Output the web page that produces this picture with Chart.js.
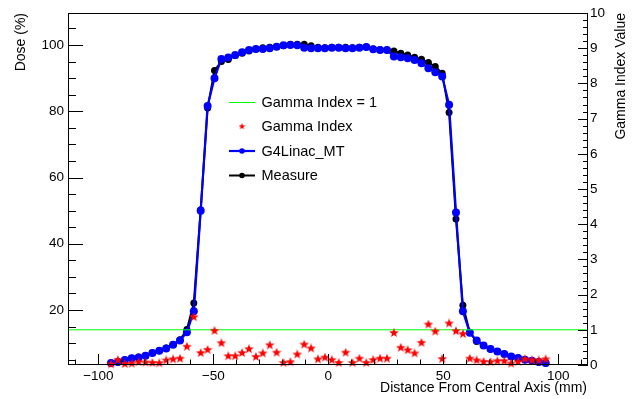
<!DOCTYPE html>
<html>
<head>
<meta charset="utf-8">
<script src="https://cdn.jsdelivr.net/npm/chart.js@4/dist/chart.umd.min.js"></script>
<style>
  body { margin: 0; background: #fff; }
  canvas { display: block; }
</style>
</head>
<body>
<canvas id="myChart" width="637" height="399"></canvas>
<script>
// profile data
const xPos = [-94.5, -91.5, -88.5, -85.5, -82.5, -79.5, -76.5, -73.5, -70.5, -67.5,
  -64.5, -61.5, -58.5, -55.5, -52.5, -49.5, -46.5, -43.5, -40.5, -37.5,
  -34.5, -31.5, -28.5, -25.5, -22.5, -19.5, -16.5, -13.5, -10.5, -7.5,
  -4.5, -1.5, 1.5, 4.5, 7.5, 10.5, 13.5, 16.5, 19.5, 22.5,
  25.5, 28.5, 31.5, 34.5, 37.5, 40.5, 43.5, 46.5, 49.5, 52.5,
  55.5, 58.5, 61.5, 64.5, 67.5, 70.5, 73.5, 76.5, 79.5, 82.5,
  85.5, 88.5, 91.5, 94.5];

const g4Linac = [4.0, 4.3, 4.9, 5.4, 5.7, 6.2, 7.0, 7.7, 8.4, 9.5,
  10.8, 13.3, 19.6, 50.0, 81.6, 90.0, 95.8, 96.2, 97.0, 97.8,
  98.5, 98.8, 98.8, 99.0, 99.5, 99.9, 100.0, 99.9, 99.2, 99.0,
  99.0, 99.0, 99.2, 99.2, 99.0, 99.0, 99.2, 99.4, 98.7, 98.5,
  98.5, 96.5, 96.3, 96.0, 95.5, 94.5, 93.0, 91.8, 90.5, 82.0,
  49.4, 19.6, 13.1, 10.8, 9.3, 8.2, 7.5, 6.7, 6.0, 5.5,
  5.0, 4.7, 4.3, 4.0];

const measure = [4.0, 4.3, 4.9, 5.4, 5.8, 6.2, 7.0, 7.7, 8.5, 9.6,
  11.0, 14.1, 22.1, 50.3, 81.0, 92.3, 95.0, 95.6, 96.8, 97.5,
  98.2, 98.8, 99.2, 99.3, 99.5, 99.8, 100.2, 100.2, 100.2, 99.8,
  99.3, 99.2, 99.3, 99.3, 99.3, 99.2, 99.3, 99.4, 98.8, 98.6,
  98.5, 98.2, 97.5, 97.0, 96.3, 95.7, 94.7, 93.5, 91.5, 79.6,
  47.5, 21.4, 13.3, 10.5, 9.3, 8.2, 7.5, 6.7, 6.0, 5.5,
  5.0, 4.6, 4.3, 3.9];

const gammaIdx = [0.02, 0.14, 0.03, 0.04, 0.08, 0.07, 0.06, 0.05, 0.13, 0.16,
  0.18, 0.52, 1.36, 0.34, 0.43, 0.97, 0.62, 0.25, 0.25, 0.34,
  0.45, 0.23, 0.33, 0.56, 0.35, 0.06, 0.08, 0.30, 0.58, 0.47,
  0.16, 0.21, 0.14, 0.06, 0.35, 0.06, 0.18, 0.06, 0.14, 0.18,
  0.18, 0.91, 0.49, 0.42, 0.33, 0.63, 1.15, 0.95, 0.17, 1.18,
  0.96, 0.88, 0.18, 0.13, 0.09, 0.08, 0.11, 0.11, 0.04, 0.09,
  0.16, 0.13, 0.13, 0.16];

const gammaLimit = 1;

// axes
const xRange = [-113.2, 112.9];
const doseRange = [3.4, 109.66];
const gammaRange = [0, 10];
const xTicks = [-100, -50, 0, 50, 100];
const doseTicks = [20, 40, 60, 80, 100];
const gammaTicks = [0, 1, 2, 3, 4, 5, 6, 7, 8, 9, 10];

const FONT = '"Liberation Sans", Arial, Helvetica, sans-serif';

// filled star marker (ROOT style 29)
function makeStar(size, color) {
  const c = document.createElement("canvas");
  c.width = size; c.height = size;
  const g = c.getContext("2d");
  const cx = size / 2, cy = size / 2, ro = size / 2, ri = ro * 0.42;
  g.beginPath();
  for (let i = 0; i < 10; i++) {
    const r = i % 2 ? ri : ro;
    const a = -Math.PI / 2 + i * Math.PI / 5;
    g.lineTo(cx + r * Math.cos(a), cy + r * Math.sin(a));
  }
  g.closePath();
  g.fillStyle = color;
  g.fill();
  return c;
}
const starImg = makeStar(10, "#ff0000");
const starSmall = makeStar(7, "#ff0000");

function pts(ys) {
  return xPos.map((x, i) => ({ x: x, y: ys[i] }));
}

function fixTicks(values) {
  return function (scale) {
    scale.ticks = values.map(v => ({ value: v }));
  };
}

// frame, inner tick marks, titles and legend like ROOT
const rootFrame = {
  id: "rootFrame",
  afterDraw(chart) {
    const ctx = chart.ctx;
    const a = chart.chartArea;
    const sx = chart.scales.x, sy = chart.scales.y, sy2 = chart.scales.y2;
    ctx.save();
    ctx.strokeStyle = "#000";
    ctx.lineWidth = 1;
    ctx.strokeRect(a.left + 0.5, a.top + 0.5, a.right - a.left - 1, a.bottom - a.top - 1);

    ctx.beginPath();
    // bottom axis ticks
    for (let v = -110; v <= 110; v += 10) {
      const px = Math.round(sx.getPixelForValue(v)) + 0.5;
      const len = v % 50 === 0 ? 11 : 5.5;
      ctx.moveTo(px, a.bottom);
      ctx.lineTo(px, a.bottom - len);
    }
    // left axis ticks
    for (let v = 5; v <= 105; v += 5) {
      const py = Math.round(sy.getPixelForValue(v)) + 0.5;
      const len = v % 20 === 0 ? 15 : 8;
      ctx.moveTo(a.left, py);
      ctx.lineTo(a.left + len, py);
    }
    // right axis ticks
    for (let i = 0; i <= 50; i++) {
      const v = i / 5;
      const py = Math.round(sy2.getPixelForValue(v)) + 0.5;
      const len = i % 5 === 0 ? 10 : 5;
      ctx.moveTo(a.right, py);
      ctx.lineTo(a.right - len, py);
    }
    ctx.stroke();

    // axis titles
    ctx.fillStyle = "#000";
    ctx.font = "14px " + FONT;
    ctx.textBaseline = "middle";
    ctx.textAlign = "right";
    ctx.fillText("Distance From Central Axis (mm)", a.right - 1, 388);

    ctx.save();
    ctx.translate(21.5, a.top);
    ctx.rotate(-Math.PI / 2);
    ctx.fillText("Dose (%)", 0, 0);
    ctx.restore();

    ctx.save();
    ctx.translate(621.5, a.top);
    ctx.rotate(-Math.PI / 2);
    ctx.fillText("Gamma Index Value", 0, 0);
    ctx.restore();

    // legend
    const ds = chart.data.datasets;
    const legend = [
      { label: "Gamma Index = 1", y: 102.5, d: ds[1], kind: "line" },
      { label: "Gamma Index", y: 126.5, d: ds[0], kind: "star" },
      { label: "G4Linac_MT", y: 151, d: ds[2], kind: "both" },
      { label: "Measure", y: 175.5, d: ds[3], kind: "both" },
    ];
    const lx0 = 229, lx1 = 255, mx = 242;
    ctx.font = "14.5px " + FONT;
    ctx.textAlign = "left";
    legend.forEach(e => {
      if (e.kind !== "star") {
        ctx.beginPath();
        ctx.strokeStyle = e.d.borderColor;
        ctx.lineWidth = e.d.borderWidth;
        ctx.moveTo(lx0, e.y);
        ctx.lineTo(lx1, e.y);
        ctx.stroke();
      }
      if (e.kind === "both") {
        ctx.beginPath();
        ctx.fillStyle = e.d.pointBackgroundColor;
        ctx.arc(mx, e.y, 2.8, 0, Math.PI * 2);
        ctx.fill();
      }
      if (e.kind === "star") {
        ctx.drawImage(starSmall, mx - 3.5, e.y - 3.5);
      }
      ctx.fillStyle = "#000";
      ctx.fillText(e.label, 261.5, e.y + 0.5);
    });
    ctx.restore();
  },
};

const ctx = document.getElementById("myChart");
const myChart = new Chart(ctx, {
  type: "scatter",
  data: {
    datasets: [
      {
        label: "Gamma Index",
        data: pts(gammaIdx),
        yAxisID: "y2",
        showLine: false,
        pointStyle: starImg,
        pointRadius: 5,
        clip: false,
      },
      {
        label: "Gamma Index = 1",
        data: [{ x: xRange[0], y: gammaLimit }, { x: xRange[1], y: gammaLimit }],
        yAxisID: "y2",
        showLine: true,
        borderColor: "#00ff00",
        borderWidth: 1,
        pointRadius: 0,
      },
      {
        label: "G4Linac_MT",
        data: pts(g4Linac),
        yAxisID: "y",
        showLine: true,
        borderColor: "#0000ff",
        borderWidth: 2.2,
        pointRadius: 4,
        pointBackgroundColor: "#0000ff",
        pointBorderWidth: 0,
        clip: false,
      },
      {
        label: "Measure",
        data: pts(measure),
        yAxisID: "y",
        showLine: true,
        borderColor: "#000000",
        borderWidth: 2,
        pointRadius: 3.5,
        pointBackgroundColor: "#000000",
        pointBorderWidth: 0,
        clip: false,
      },
    ],
  },
  options: {
    responsive: false,
    animation: false,
    layout: { padding: { top: 13, left: 0, right: 0, bottom: 0 } },
    plugins: {
      legend: { display: false },
      tooltip: { enabled: false },
    },
    scales: {
      x: {
        type: "linear",
        position: "bottom",
        min: xRange[0],
        max: xRange[1],
        grid: { display: false, drawTicks: false },
        border: { display: false },
        afterBuildTicks: fixTicks(xTicks),
        afterFit: s => { s.height = 34; },
        ticks: {
          autoSkip: false,
          maxRotation: 0,
          padding: 3,
          color: "#000",
          font: { family: FONT, size: 13.5 },
          callback: v => (v < 0 ? "\u2212" + Math.abs(v) : String(v)),
        },
      },
      y: {
        type: "linear",
        position: "left",
        min: doseRange[0],
        max: doseRange[1],
        grid: { display: false, drawTicks: false },
        border: { display: false },
        afterBuildTicks: fixTicks(doseTicks),
        afterFit: s => { s.width = 68; },
        ticks: {
          autoSkip: false,
          padding: 4,
          color: "#000",
          font: { family: FONT, size: 13.5 },
        },
      },
      y2: {
        type: "linear",
        position: "right",
        min: gammaRange[0],
        max: gammaRange[1],
        grid: { display: false, drawTicks: false },
        border: { display: false },
        afterBuildTicks: fixTicks(gammaTicks),
        afterFit: s => { s.width = 49; },
        ticks: {
          autoSkip: false,
          padding: 2,
          color: "#000",
          font: { family: FONT, size: 13.5 },
        },
      },
    },
  },
  plugins: [rootFrame],
});
</script>
</body>
</html>
